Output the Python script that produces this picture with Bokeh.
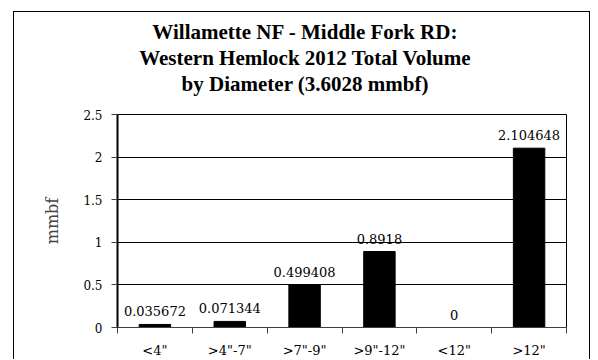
from bokeh.plotting import figure
from bokeh.models import FixedTicker, Title, Range1d, ColumnDataSource, Spacer
from bokeh.layouts import column, row
from bokeh.embed import file_html
from bokeh.resources import INLINE
from bokeh.core.properties import value

categories = ['<4"', '>4"-7"', '>7"-9"', '>9"-12"', '<12"', '>12"']
volumes = [0.035672, 0.071344, 0.499408, 0.8918, 0, 2.104648]
y_ticks = [0, 0.5, 1, 1.5, 2, 2.5]
y_tick_labels = ["0", "0.5", "1", "1.5", "2", "2.5"]
title_lines = ["Willamette NF - Middle Fork RD:",
               "Western Hemlock 2012 Total Volume",
               "by Diameter (3.6028 mmbf)"]
y_label = "mmbf"


def fmt(v):
    s = f"{v:.6f}".rstrip("0").rstrip(".")
    return s or "0"


xs = [i + 0.5 for i in range(len(categories))]
src = ColumnDataSource(dict(x=xs, top=volumes, label=[fmt(v) for v in volumes]))

SERIF = "DejaVu Serif"

p = figure(width=577, height=348, output_backend="svg", toolbar_location=None,
           x_range=Range1d(0, len(categories)), y_range=Range1d(0, 2.5),
           min_border_left=103, min_border_right=25, min_border_top=102,
           min_border_bottom=32)
p.styles = {"border-left": "1px solid black", "border-top": "1px solid black",
            "border-right": "1px solid black"}
p.background_fill_color = "white"
p.border_fill_color = "white"
p.outline_line_color = "black"
p.outline_line_width = 1

p.vbar(x="x", top="top", bottom=0, width=0.42, source=src,
       fill_color="black", line_color="black")
p.text(x="x", y="top", text="label", source=src, text_align="center",
       text_baseline="bottom", y_offset=-8, text_font=value(SERIF),
       text_font_size="13px", text_color="black")

# x axis: labels at centers, ticks at category boundaries
xa = p.xaxis[0]
xa.ticker = FixedTicker(ticks=xs, minor_ticks=list(range(len(categories) + 1)))
xa.major_label_overrides = {x: c for x, c in zip(xs, categories)}
xa.major_tick_line_color = None
xa.major_tick_out = 6
xa.major_tick_in = 0
xa.minor_tick_out = 6
xa.minor_tick_in = 0
xa.minor_tick_line_color = "#404040"
xa.axis_line_color = "#404040"
xa.major_label_standoff = 9
xa.major_label_text_font = SERIF
xa.major_label_text_font_size = "13px"
xa.major_label_text_color = "black"

ya = p.yaxis[0]
ya.ticker = FixedTicker(ticks=y_ticks)
ya.major_label_overrides = {t: l for t, l in zip(y_ticks, y_tick_labels)}
ya.minor_tick_line_color = None
ya.major_tick_out = 6
ya.major_tick_in = 0
ya.major_tick_line_color = "#404040"
ya.axis_line_color = "black"
ya.axis_line_width = 2
ya.major_label_standoff = 9
ya.major_label_text_font = SERIF
ya.major_label_text_font_size = "12px"
ya.major_label_text_color = "black"
ya.axis_label = y_label
ya.axis_label_text_font = SERIF
ya.axis_label_text_font_style = "normal"
ya.axis_label_text_font_size = "16px"
ya.axis_label_standoff = 18

p.xgrid.visible = False
p.ygrid.ticker = FixedTicker(ticks=y_ticks)
p.ygrid.grid_line_color = "black"
p.ygrid.grid_line_width = 1

# gap between the title block and the plot frame
p.add_layout(Title(text=" ", standoff=3, text_font_size="12px"), "above")
# title lines: bottom line first so that later ones stack above;
# trailing no-break spaces shift the centred text left of the frame centre
pad = "\u00a0" * 14
for t in reversed(title_lines):
    p.add_layout(Title(text=t + pad, align="center", standoff=0,
                       text_font="Liberation Serif", text_font_style="bold",
                       text_font_size="21px", text_color="black"), "above")

layout = column(Spacer(height=11), row(Spacer(width=13), p))

open("out.html", "w").write(file_html(layout, INLINE))
